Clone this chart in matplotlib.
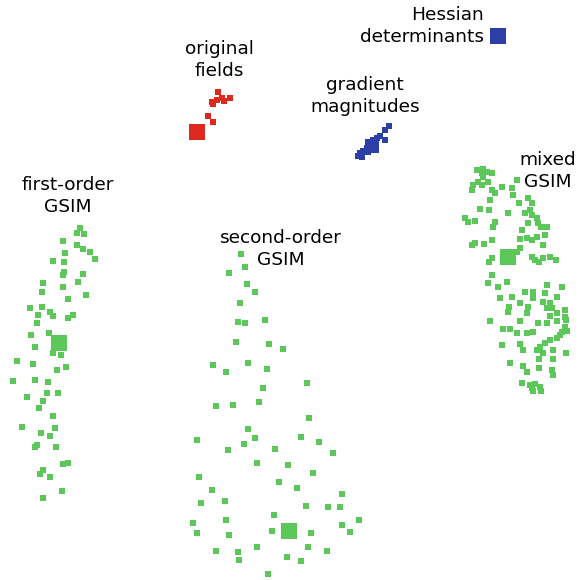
import matplotlib
matplotlib.use("Agg")
import matplotlib.pyplot as plt

# Embedding coordinates (pixel-like units)
first_x = [80, 77, 84, 63, 77, 83, 90, 65, 95, 53, 64, 64, 63, 83, 43, 63, 78, 42, 86, 68,
           30, 42, 50, 38, 53, 68, 73, 37, 31, 49, 35, 53, 61, 17, 33, 57, 66, 13, 35, 48,
           27, 47, 58, 43, 39, 53, 22, 55, 41, 50, 37, 35, 56, 63, 68, 43, 40, 50, 62, 43]
first_y = [228, 233, 234, 241, 245, 249, 252, 253, 259, 261, 262, 272, 275, 274, 283, 287, 282, 292, 295, 299,
           308, 307, 312, 315, 316, 318, 315, 323, 335, 333, 347, 353, 355, 361, 364, 370, 367, 381, 380, 382,
           397, 393, 393, 401, 408, 416, 427, 428, 433, 436, 445, 447, 447, 464, 463, 470, 474, 477, 491, 498]
first_center = (59, 343)

second_x = [241, 245, 229, 247, 255, 240, 265, 238, 245, 236, 269, 283, 213, 248, 226, 267, 307, 263, 259, 216,
            233, 309, 248, 197, 255, 301, 244, 228, 275, 319, 333, 257, 288, 313, 199, 279, 212, 297, 342, 201,
            225, 306, 328, 340, 274, 359, 193, 226, 342, 197, 229, 272, 311, 350, 257, 216, 238, 308, 327, 287,
            239, 301, 268]
second_y = [254, 267, 273, 284, 292, 303, 320, 322, 323, 342, 344, 349, 365, 363, 372, 369, 383, 388, 402, 406,
            405, 418, 429, 440, 438, 437, 444, 450, 449, 442, 453, 463, 465, 473, 477, 482, 490, 488, 494, 503,
            501, 506, 507, 507, 515, 520, 523, 520, 525, 533, 535, 531, 533, 532, 547, 551, 552, 547, 551, 557,
            560, 561, 574]
second_center = (289, 531)

mixed_x = [477, 483, 482, 487, 492, 483, 478, 488, 473, 482, 472, 517, 502, 512, 492, 495, 513, 490, 528, 532,
           519, 480, 489, 508, 530, 525, 532, 537, 465, 468, 475, 495, 538, 493, 528, 522, 541, 547, 520, 527,
           532, 545, 537, 472, 475, 484, 492, 543, 520, 517, 492, 489, 532, 535, 543, 550, 556, 539, 492, 488,
           498, 507, 547, 562, 525, 533, 545, 500, 512, 533, 557, 543, 550, 509, 520, 528, 547, 552, 565, 508,
           527, 550, 557, 565, 490, 520, 557, 566, 538, 547, 503, 510, 565, 562, 567, 517, 527, 533, 560, 557,
           550, 502, 520, 545, 540, 523, 537, 553, 543, 566, 539, 553, 510, 523, 539, 552, 527, 553, 522, 530,
           535, 532, 540, 533, 541]
mixed_y = [170, 169, 173, 172, 173, 177, 182, 182, 185, 185, 190, 180, 187, 188, 190, 193, 195, 200, 198, 203,
           203, 209, 210, 213, 210, 213, 215, 218, 218, 222, 221, 222, 223, 227, 223, 230, 227, 227, 239, 238,
           240, 235, 237, 245, 243, 244, 240, 245, 248, 252, 258, 262, 257, 260, 258, 257, 260, 262, 275, 283,
           287, 282, 285, 287, 292, 292, 293, 298, 297, 298, 297, 302, 303, 307, 303, 307, 308, 308, 310, 312,
           313, 316, 313, 317, 321, 321, 321, 320, 323, 323, 329, 329, 327, 332, 331, 333, 333, 332, 335, 338,
           340, 345, 344, 343, 347, 350, 350, 350, 353, 353, 359, 359, 363, 366, 368, 370, 372, 375, 383, 385,
           384, 388, 387, 391, 391]
mixed_center = (508, 257)

orig_x = [218, 212, 217, 222, 224, 230, 213, 208, 213]
orig_y = [92, 102, 100, 98, 101, 98, 104, 116, 122]
orig_center = (197, 132)

grad_x = [389, 385, 380, 377, 385, 373, 370, 367, 363, 360, 358, 362, 375, 368]
grad_y = [126, 130, 136, 138, 140, 140, 143, 148, 151, 153, 156, 157, 149, 152]
grad_center = (372, 146)

hess_center = (498, 36)

labels = ["Hessian\ndeterminants", "original\nfields", "gradient\nmagnitudes",
          "first-order\nGSIM", "second-order\nGSIM", "mixed\nGSIM"]
label_x = [484, 219, 365, 68, 281, 548]
label_y = [26, 60, 96, 196, 249, 171]
label_ha = ["right", "center", "center", "center", "center", "center"]

GREEN = "#5cc85a"
RED = "#dc2a1e"
BLUE = "#2d3fa6"

fig = plt.figure(figsize=(5.82, 5.80), dpi=100)
ax = fig.add_axes([0, 0, 1, 1])
ax.set_xlim(0, 582)
ax.set_ylim(580, 0)
ax.axis("off")

small = 13
big = 125

for xs, ys, c in [(first_x, first_y, GREEN), (second_x, second_y, GREEN),
                  (mixed_x, mixed_y, GREEN), (orig_x, orig_y, RED), (grad_x, grad_y, BLUE)]:
    ax.scatter(xs, ys, s=small, marker="s", color=c, linewidths=0)

for (cx, cy), c, sz in [(first_center, GREEN, big), (second_center, GREEN, big),
                        (mixed_center, GREEN, big), (orig_center, RED, big),
                        (grad_center, BLUE, 90), (hess_center, BLUE, 133)]:
    ax.scatter([cx], [cy], s=sz, marker="s", color=c, linewidths=0)

for t, x, y, ha in zip(labels, label_x, label_y, label_ha):
    ax.text(x, y, t, ha=ha, va="center", multialignment=ha, fontsize=13.3,
            color="#000000", family="DejaVu Sans", linespacing=1.35)

fig.savefig("out.png", dpi=100)
